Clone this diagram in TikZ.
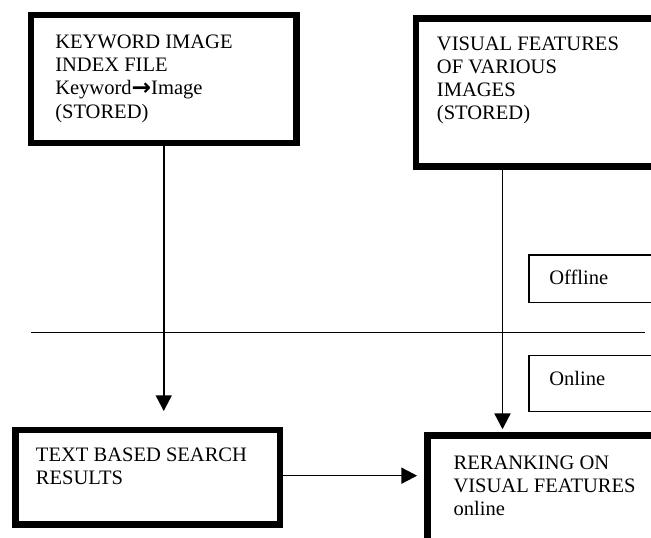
\documentclass[tikz,border=0pt]{standalone}
\usepackage{fontspec}
\setmainfont{Liberation Serif}
\newfontfamily\arrowfont{DejaVu Sans}
\usetikzlibrary{arrows.meta,fit}
\begin{document}
\begin{tikzpicture}[x=0.75pt,y=-0.75pt,
  thickbox/.style={draw, line width=4.9pt, inner sep=0pt},
  thinbox/.style={draw, line width=1pt, inner sep=0pt},
  lbl/.style={anchor=north west, inner sep=0pt, align=left, font=\fontsize{15.4}{17.3}\selectfont},
  tag/.style={anchor=base west, inner sep=0pt, font=\fontsize{15.4}{17.3}\selectfont},
  conn/.style={line width=1.2pt, -{Triangle[length=11.8pt,width=12pt]}},
  divider/.style={line width=1pt}
]
\useasboundingbox (0,0) rectangle (651,538);
\clip (0,0) rectangle (651,538);

% boxes
\node[thickbox, fit={(31,15)(296.5,143)}] (kw) {};
\node[thickbox, fit={(416,18.3)(700,166.7)}] (vf) {};
\node[thinbox, fit={(529,255)(700,302.3)}] (off) {};
\node[thinbox, fit={(529,355.7)(700,411.7)}] (on) {};
\node[thickbox, fit={(15.7,430)(280,524.3)}] (tb) {};
\node[thickbox, fit={(427.7,435.7)(700,560)}] (rr) {};

% texts
\node[lbl] (kwt) at (55,35) {KEYWORD IMAGE\\INDEX FILE\\Keyword{\arrowfont\bfseries\fontsize{17.5}{17.3}\selectfont\raisebox{-0.5pt}{→}}Image\\(STORED)};
\node[lbl] (vft) at (436.7,36.6) {VISUAL FEATURES\\OF VARIOUS\\IMAGES\\(STORED)};
\node[tag] (offt) at (549,285) {Offline};
\node[tag] (ont) at (549,385.7) {Online};
\node[lbl] (tbt) at (35.7,447.3) {TEXT BASED SEARCH\\RESULTS};
\node[lbl] (rrt) at (453.3,456) {RERANKING ON\\VISUAL FEATURES\\online};

% divider
\coordinate (divL) at (31,332.3);
\coordinate (divR) at (645,332.3);
\draw[divider] (divL) -- (divR);

% connectors
\coordinate (kwend) at (163.75,411);
\draw[conn] (kw.south) -- (kwend);
\coordinate (vx) at (502.5,0);
\draw[conn, shorten >=2.4pt] (vf.south -| vx) -- (rr.north -| vx);
\coordinate (hy) at (0,475.7);
\draw[conn, shorten >=5.5pt] (tb.east |- hy) -- (rr.west |- hy);
\end{tikzpicture}
\end{document}
